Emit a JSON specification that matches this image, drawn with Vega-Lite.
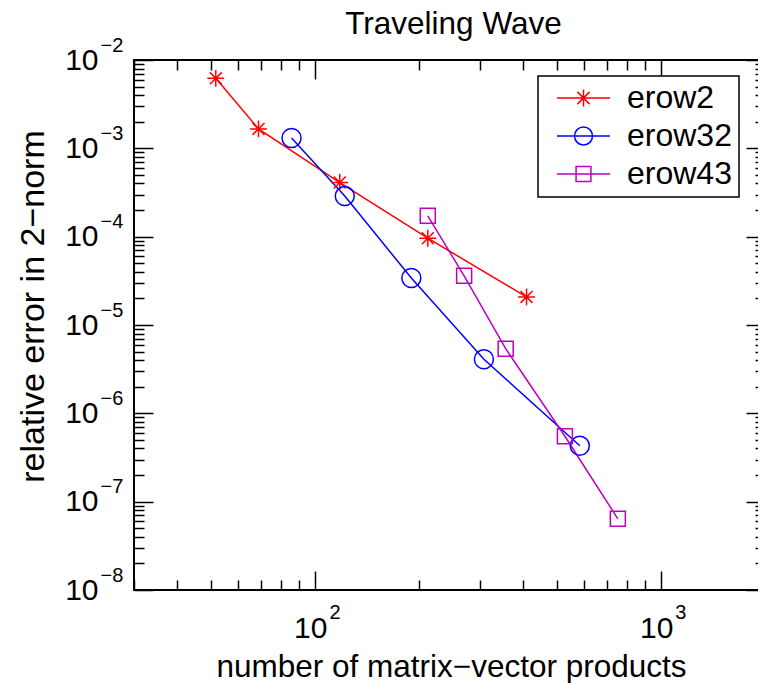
{
  "$schema": "https://vega.github.io/schema/vega-lite/v6.json",
  "width": 631,
  "height": 530,
  "autosize": {"type": "none"},
  "padding": {"left": 134, "top": 60, "right": 0, "bottom": 93},
  "title": {"text": "Traveling Wave", "font": "Liberation Sans", "fontSize": 31.5, "fontWeight": "normal", "color": "black", "anchor": "middle", "frame": "group", "baseline": "alphabetic", "offset": -30, "dx": 4},
  "data": {"values": [
    {"series": "erow2", "n": 51.7, "err": 0.0062},
    {"series": "erow2", "n": 68.7, "err": 0.00166},
    {"series": "erow2", "n": 118, "err": 0.00041},
    {"series": "erow2", "n": 212, "err": 0.000096},
    {"series": "erow2", "n": 409, "err": 0.0000208},
    {"series": "erow32", "n": 85.6, "err": 0.00131},
    {"series": "erow32", "n": 122, "err": 0.000288},
    {"series": "erow32", "n": 190, "err": 0.000034},
    {"series": "erow32", "n": 308, "err": 0.0000041},
    {"series": "erow32", "n": 583, "err": 0.00000043},
    {"series": "erow43", "n": 212, "err": 0.000172},
    {"series": "erow43", "n": 270, "err": 0.000036},
    {"series": "erow43", "n": 356, "err": 0.0000054},
    {"series": "erow43", "n": 528, "err": 0.00000055},
    {"series": "erow43", "n": 751, "err": 0.000000064}
  ]},
  "config": {
    "view": {"stroke": "black", "strokeWidth": 2},
    "axis": {"grid": false, "domain": false, "labelFont": "Liberation Sans", "titleFont": "Liberation Sans", "labelColor": "black", "titleColor": "black", "tickColor": "black", "tickWidth": 1.5, "titleFontWeight": "normal", "labelOverlap": false, "labelFlush": false},
    "legend": {"strokeWidth": 1.5}
  },
  "resolve": {"axis": {"x": "independent", "y": "independent"}},
  "layer": [
    {
      "mark": {"type": "line", "strokeWidth": 1.5},
      "encoding": {
        "x": {"field": "n", "type": "quantitative", "scale": {"type": "log", "domain": [30, 2000], "nice": false},
          "axis": {"orient": "bottom", "values": [100, 1000], "tickSize": -19, "labels": false, "title": null}},
        "y": {"field": "err", "type": "quantitative", "scale": {"type": "log", "domain": [1e-8, 1e-2], "nice": false},
          "axis": {"orient": "left", "values": [1e-8, 1e-7, 1e-6, 1e-5, 1e-4, 1e-3, 1e-2], "tickSize": -19, "labels": false, "title": null}},
        "color": {"field": "series", "type": "nominal", "scale": {"domain": ["erow2", "erow32", "erow43"], "range": ["#FF0000", "#0000FF", "#BF00BF"]},
          "legend": {"title": null, "orient": "none", "legendX": 404, "legendY": 16, "padding": 7, "strokeColor": "black", "fillColor": "white", "symbolSize": 2809, "symbolStrokeWidth": 1.5, "symbolOffset": 11, "symbolFillColor": "transparent", "symbolOpacity": 1, "labelOffset": 16, "labelFontSize": 32, "labelFont": "Liberation Sans", "labelColor": "black", "labelBaseline": "middle", "clipHeight": 30, "rowPadding": 6, "labelExpr": "datum.label + '\u00a0\u00a0'"}},
        "detail": {"field": "series"}
      }
    },
    {
      "transform": [{"filter": "datum.series === 'erow2'"}],
      "mark": {"type": "point", "shape": "M-0.89,0L0.89,0M0,-0.89L0,0.89M-0.63,-0.63L0.63,0.63M-0.63,0.63L0.63,-0.63", "filled": false, "strokeWidth": 1.5, "size": 361, "opacity": 1},
      "encoding": {
        "x": {"field": "n", "type": "quantitative", "scale": {"type": "log", "domain": [30, 2000], "nice": false},
          "axis": {"orient": "bottom", "values": [30, 40, 50, 60, 70, 80, 90, 200, 300, 400, 500, 600, 700, 800, 900], "tickSize": -10, "labels": false, "title": null}},
        "y": {"field": "err", "type": "quantitative", "scale": {"type": "log", "domain": [1e-8, 1e-2], "nice": false},
          "axis": {"orient": "left", "values": [2e-8, 3e-8, 4e-8, 5e-8, 6e-8, 7e-8, 8e-8, 9e-8, 2e-7, 3e-7, 4e-7, 5e-7, 6e-7, 7e-7, 8e-7, 9e-7, 2e-6, 3e-6, 4e-6, 5e-6, 6e-6, 7e-6, 8e-6, 9e-6, 2e-5, 3e-5, 4e-5, 5e-5, 6e-5, 7e-5, 8e-5, 9e-5, 2e-4, 3e-4, 4e-4, 5e-4, 6e-4, 7e-4, 8e-4, 9e-4, 2e-3, 3e-3, 4e-3, 5e-3, 6e-3, 7e-3, 8e-3, 9e-3], "tickSize": -10, "labels": false, "title": null}},
        "color": {"field": "series", "type": "nominal", "scale": {"domain": ["erow2", "erow32", "erow43"], "range": ["#FF0000", "#0000FF", "#BF00BF"]},
          "legend": {"title": null, "orient": "none", "legendX": 404, "legendY": 16, "padding": 7, "strokeColor": "black", "fillColor": "white", "symbolSize": 2809, "symbolStrokeWidth": 1.5, "symbolOffset": 11, "symbolFillColor": "transparent", "symbolOpacity": 1, "labelOffset": 16, "labelFontSize": 32, "labelFont": "Liberation Sans", "labelColor": "black", "labelBaseline": "middle", "clipHeight": 30, "rowPadding": 6, "labelExpr": "datum.label + '\u00a0\u00a0'"}}
      }
    },
    {
      "transform": [{"filter": "datum.series === 'erow32'"}],
      "mark": {"type": "point", "shape": "circle", "filled": false, "strokeWidth": 1.5, "size": 361, "opacity": 1},
      "encoding": {
        "x": {"field": "n", "type": "quantitative", "scale": {"type": "log", "domain": [30, 2000], "nice": false},
          "axis": {"orient": "top", "values": [100, 1000], "tickSize": -19, "labels": false, "title": null}},
        "y": {"field": "err", "type": "quantitative", "scale": {"type": "log", "domain": [1e-8, 1e-2], "nice": false},
          "axis": {"orient": "right", "values": [1e-8, 1e-7, 1e-6, 1e-5, 1e-4, 1e-3, 1e-2], "tickSize": -19, "labels": false, "title": null}},
        "color": {"field": "series", "type": "nominal", "scale": {"domain": ["erow2", "erow32", "erow43"], "range": ["#FF0000", "#0000FF", "#BF00BF"]},
          "legend": {"title": null, "orient": "none", "legendX": 404, "legendY": 16, "padding": 7, "strokeColor": "black", "fillColor": "white", "symbolSize": 2809, "symbolStrokeWidth": 1.5, "symbolOffset": 11, "symbolFillColor": "transparent", "symbolOpacity": 1, "labelOffset": 16, "labelFontSize": 32, "labelFont": "Liberation Sans", "labelColor": "black", "labelBaseline": "middle", "clipHeight": 30, "rowPadding": 6, "labelExpr": "datum.label + '\u00a0\u00a0'"}}
      }
    },
    {
      "transform": [{"filter": "datum.series === 'erow43'"}],
      "mark": {"type": "point", "shape": "M-0.79,-0.79L0.79,-0.79L0.79,0.79L-0.79,0.79Z", "filled": false, "strokeWidth": 1.5, "size": 361, "opacity": 1},
      "encoding": {
        "x": {"field": "n", "type": "quantitative", "scale": {"type": "log", "domain": [30, 2000], "nice": false},
          "axis": {"orient": "top", "values": [30, 40, 50, 60, 70, 80, 90, 200, 300, 400, 500, 600, 700, 800, 900], "tickSize": -10, "labels": false, "title": null}},
        "y": {"field": "err", "type": "quantitative", "scale": {"type": "log", "domain": [1e-8, 1e-2], "nice": false},
          "axis": {"orient": "right", "values": [2e-8, 3e-8, 4e-8, 5e-8, 6e-8, 7e-8, 8e-8, 9e-8, 2e-7, 3e-7, 4e-7, 5e-7, 6e-7, 7e-7, 8e-7, 9e-7, 2e-6, 3e-6, 4e-6, 5e-6, 6e-6, 7e-6, 8e-6, 9e-6, 2e-5, 3e-5, 4e-5, 5e-5, 6e-5, 7e-5, 8e-5, 9e-5, 2e-4, 3e-4, 4e-4, 5e-4, 6e-4, 7e-4, 8e-4, 9e-4, 2e-3, 3e-3, 4e-3, 5e-3, 6e-3, 7e-3, 8e-3, 9e-3], "tickSize": -10, "labels": false, "title": null}},
        "color": {"field": "series", "type": "nominal", "scale": {"domain": ["erow2", "erow32", "erow43"], "range": ["#FF0000", "#0000FF", "#BF00BF"]},
          "legend": {"title": null, "orient": "none", "legendX": 404, "legendY": 16, "padding": 7, "strokeColor": "black", "fillColor": "white", "symbolSize": 2809, "symbolStrokeWidth": 1.5, "symbolOffset": 11, "symbolFillColor": "transparent", "symbolOpacity": 1, "labelOffset": 16, "labelFontSize": 32, "labelFont": "Liberation Sans", "labelColor": "black", "labelBaseline": "middle", "clipHeight": 30, "rowPadding": 6, "labelExpr": "datum.label + '\u00a0\u00a0'"}}
      }
    },
    {
      "mark": {"type": "point", "opacity": 0, "filled": false},
      "encoding": {
        "x": {"field": "n", "type": "quantitative", "scale": {"type": "log", "domain": [30, 2000], "nice": false},
          "axis": {"orient": "bottom", "values": [100, 1000], "ticks": false, "labelExpr": "'10'", "labelFontSize": 30, "labelAlign": "right", "labelOffset": 12, "labelBaseline": "middle", "labelPadding": 38,
            "title": "number of matrix−vector products", "titleFontSize": 31.5, "titleX": 317, "titleY": 86, "titleBaseline": "alphabetic", "titleAlign": "center"}},
        "y": {"field": "err", "type": "quantitative", "scale": {"type": "log", "domain": [1e-8, 1e-2], "nice": false},
          "axis": {"orient": "left", "values": [1e-8, 1e-7, 1e-6, 1e-5, 1e-4, 1e-3, 1e-2], "ticks": false, "labelExpr": "'10'", "labelFontSize": 30, "labelAlign": "right", "labelBaseline": "middle", "labelPadding": 36,
            "title": "relative error in 2−norm", "titleFontSize": 34, "titleAngle": 270, "titleX": -91, "titleY": 246, "titleBaseline": "alphabetic", "titleAlign": "center"}},
        "color": {"field": "series", "type": "nominal", "scale": {"domain": ["erow2", "erow32", "erow43"], "range": ["#FF0000", "#0000FF", "#BF00BF"]},
          "legend": {"title": null, "orient": "none", "legendX": 404, "legendY": 16, "padding": 7, "strokeColor": "black", "fillColor": "white", "symbolSize": 2809, "symbolStrokeWidth": 1.5, "symbolOffset": 11, "symbolFillColor": "transparent", "symbolOpacity": 1, "labelOffset": 16, "labelFontSize": 32, "labelFont": "Liberation Sans", "labelColor": "black", "labelBaseline": "middle", "clipHeight": 30, "rowPadding": 6, "labelExpr": "datum.label + '\u00a0\u00a0'"}},
        "shape": {"field": "series", "type": "nominal", "scale": {"domain": ["erow2", "erow32", "erow43"], "range": ["M-1,0L1,0M-0.32,0L0.32,0M0,-0.32L0,0.32M-0.23,-0.23L0.23,0.23M-0.23,0.23L0.23,-0.23", "M-1,0L1,0M0.34,0A0.34,0.34,0,1,1,-0.34,0A0.34,0.34,0,1,1,0.34,0", "M-1,0L1,0M-0.28,-0.28L0.28,-0.28L0.28,0.28L-0.28,0.28Z"]},
          "legend": {"title": null, "orient": "none", "legendX": 404, "legendY": 16, "padding": 7, "strokeColor": "black", "fillColor": "white", "symbolSize": 2809, "symbolStrokeWidth": 1.5, "symbolOffset": 11, "symbolFillColor": "transparent", "symbolOpacity": 1, "labelOffset": 16, "labelFontSize": 32, "labelFont": "Liberation Sans", "labelColor": "black", "labelBaseline": "middle", "clipHeight": 30, "rowPadding": 6, "labelExpr": "datum.label + '\u00a0\u00a0'"}}
      }
    },
    {
      "mark": {"type": "point", "opacity": 0},
      "encoding": {
        "x": {"field": "n", "type": "quantitative", "scale": {"type": "log", "domain": [30, 2000], "nice": false},
          "axis": {"orient": "bottom", "values": [100, 1000], "ticks": false, "labelExpr": "'' + round(log(datum.value) / LN10)", "labelFontSize": 20, "labelAlign": "left", "labelOffset": 14, "labelBaseline": "middle", "labelPadding": 22, "title": null}},
        "y": {"field": "err", "type": "quantitative", "scale": {"type": "log", "domain": [1e-8, 1e-2], "nice": false},
          "axis": {"orient": "left", "values": [1e-8, 1e-7, 1e-6, 1e-5, 1e-4, 1e-3, 1e-2], "ticks": false, "labelExpr": "'−' + abs(round(log(datum.value) / LN10))", "labelFontSize": 20, "labelAlign": "left", "labelBaseline": "middle", "labelPadding": 34, "labelOffset": -15, "title": null}}
      }
    }
  ]
}
